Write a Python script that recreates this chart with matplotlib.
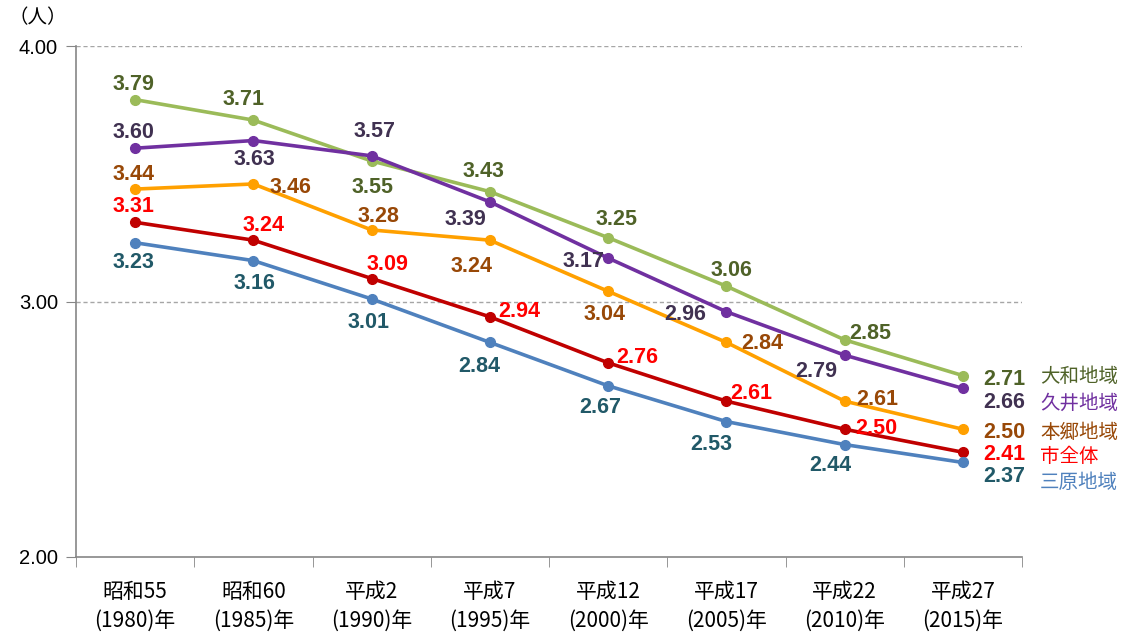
import matplotlib
matplotlib.use("Agg")
import matplotlib.pyplot as plt

plt.rcParams['font.family'] = ['Noto Sans CJK JP', 'DejaVu Sans']

categories = ["昭和55\n(1980)年", "昭和60\n(1985)年", "平成2\n(1990)年", "平成7\n(1995)年",
              "平成12\n(2000)年", "平成17\n(2005)年", "平成22\n(2010)年", "平成27\n(2015)年"]

yamato = [3.79, 3.71, 3.55, 3.43, 3.25, 3.06, 2.85, 2.71]
kui = [3.60, 3.63, 3.57, 3.39, 3.17, 2.96, 2.79, 2.66]
hongo = [3.44, 3.46, 3.28, 3.24, 3.04, 2.84, 2.61, 2.50]
city = [3.31, 3.24, 3.09, 2.94, 2.76, 2.61, 2.50, 2.41]
mihara = [3.23, 3.16, 3.01, 2.84, 2.67, 2.53, 2.44, 2.37]

series_names = ["大和地域", "久井地域", "本郷地域", "市全体", "三原地域"]
series_values = [yamato, kui, hongo, city, mihara]

line_colors = ["#9BBB59", "#7030A0", "#FFA000", "#C00000", "#4F81BD"]
label_colors = ["#4F6228", "#403151", "#984807", "#FF0000", "#215968"]
legend_colors = ["#4F6228", "#7030A0", "#984807", "#FF0000", "#4F81BD"]

# label offsets in pixels (dx, dy)
offsets = [
    [(-2, 17), (-10, 23), (1, -25), (-6, 22), (8, 20), (5, 18), (26, 8), (41, -2)],
    [(-2, 18), (1, -17), (3, 26), (-24, -16), (-25, -1), (-41, -1), (-28, -14), (41, -12)],
    [(-2, 17), (37, -2), (7, 15), (-18, -24), (-4, -21), (36, 1), (33, 4), (41, -1)],
    [(-2, 18), (10, 17), (16, 16), (29, 7), (29, 7), (25, 10), (32, 3), (41, 0)],
    [(-2, -18), (1, -21), (-3, -22), (-11, -22), (-8, -20), (-15, -21), (-14, -19), (41, -12)],
]
legend_y = [376, 403, 432, 456, 483]

fig = plt.figure(figsize=(11.26, 6.36), dpi=100)
ax = fig.add_axes([76 / 1126, 1 - 557 / 636, (1022 - 76) / 1126, (557 - 46) / 636])

x = list(range(len(categories)))
for vals, lc, tc, offs in zip(series_values, line_colors, label_colors, offsets):
    ax.plot(x, vals, color=lc, lw=2.6, marker='o', ms=7, zorder=3)
    for xi, v, (dx, dy) in zip(x, vals, offs):
        ax.annotate(f"{v:.2f}", (xi, v), xytext=(dx, dy - 2), textcoords='offset pixels',
                    ha='center', va='center', fontsize=15.5, fontweight='bold', color=tc,
                    family=['Liberation Sans', 'DejaVu Sans'], zorder=4)

for name, tc, ly in zip(series_names, legend_colors, legend_y):
    fig.text(1040 / 1126, 1 - ly / 636, name, color=tc, fontsize=14, ha='left', va='center')

ax.set_xlim(-0.5, len(categories) - 0.5)
ax.set_ylim(2.0, 4.0)
ax.set_yticks([2.0, 3.0, 4.0])
ax.set_yticklabels(["2.00", "3.00", "4.00"], fontsize=14.5, family=['Liberation Sans'])
ax.set_xticks(x)
ax.set_xticklabels(categories, fontsize=15, linespacing=1.45)
ax.tick_params(axis='x', length=0, pad=17)
ax.set_xticks([i - 0.5 for i in range(len(categories) + 1)], minor=True)
ax.tick_params(axis='x', which='minor', length=7, color='#868686', direction='out')
ax.tick_params(axis='y', length=7, color='#868686', direction='out', pad=6)

for yv in [3.0, 4.0]:
    ax.axhline(yv, color='#A6A6A6', lw=1, ls=(0, (3, 2)), zorder=1)

for s in ['top', 'right']:
    ax.spines[s].set_visible(False)
for s in ['left', 'bottom']:
    ax.spines[s].set_color('#868686')
    ax.spines[s].set_linewidth(1.2)

fig.text(8 / 1126, 1 - 18 / 636, "（人）", fontsize=14, ha='left', va='center')

fig.savefig("out.png", dpi=100)
